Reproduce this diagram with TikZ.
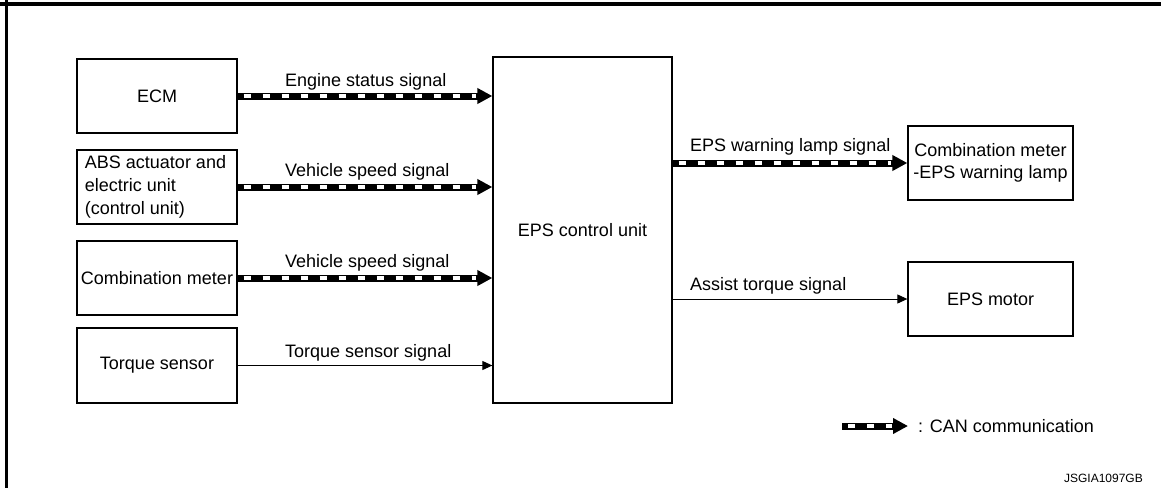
\documentclass[tikz,border=0pt]{standalone}
\usepackage{fontspec}
\setmainfont{Liberation Sans}
\usetikzlibrary{arrows.meta}
\begin{document}
\begin{tikzpicture}[x=1pt,y=-1pt,
  txt/.style={font=\fontsize{18}{23}\selectfont, inner sep=0pt},
  box/.style={draw=black, line width=1.3pt, minimum width=160pt, minimum height=74pt, txt},
  lbl/.style={txt, anchor=base west},
  can/.style={line width=7pt, -{Triangle[length=15pt,width=15pt]},
    postaction={draw=white, line width=3.2pt, dash pattern=on 7pt off 12pt, dash phase=13pt, shorten >=16pt, -}},
  thin/.style={line width=1pt, -{Triangle[length=10pt,width=9pt]}}]
\useasboundingbox (0,0) rectangle (1161,488);
% frame
\draw[line width=4pt] (0,3.5) -- (1161,3.5);
\draw[line width=3.5pt] (6.5,0) -- (6.5,488);
% nodes
\node[box] (ecm) at (157,96) {ECM};
\node[box, align=left] (abs) at (157,187) {\hspace*{-3pt}ABS actuator and\\\hspace*{-3pt}electric unit\\\hspace*{-3pt}(control unit)};
\node[box] (comb) at (157,278) {Combination meter};
\node[box, minimum height=75pt] (torque) at (157,365.5) {Torque sensor};
\node[box, minimum width=179pt, minimum height=346pt] (eps) at (582.5,230) {EPS control unit};
\node[box, minimum width=165pt, align=center, font=\fontsize{18}{22}\selectfont] (meter) at (990.5,163) {Combination meter\\-EPS warning lamp};
\node[box, minimum width=165pt] (motor) at (990.5,299) {EPS motor};
% connectors
\draw[can] (ecm.east) -- (eps.west |- ecm.east);
\draw[can] (abs.east) -- (eps.west |- abs.east);
\draw[can] (comb.east) -- (eps.west |- comb.east);
\draw[thin] (torque.east) -- (eps.west |- torque.east);
\draw[can] (eps.east |- meter.west) -- (meter.west);
\draw[thin] (eps.east |- motor.west) -- (motor.west);
% labels
\node[lbl] (l1) at (285,86) {Engine status signal};
\node[lbl] (l2) at (285,176) {Vehicle speed signal};
\node[lbl] (l3) at (285,267) {Vehicle speed signal};
\node[lbl] (l4) at (285,357) {Torque sensor signal};
\node[lbl] (l5) at (690,151) {EPS warning lamp signal};
\node[lbl] (l6) at (690,290) {Assist torque signal};
% legend
\coordinate (lga) at (842,426);
\coordinate (lgb) at (908,426);
\node[lbl] (lgt) at (918,432.5) {: CAN communication};
\draw[can] (lga) -- (lgb);
\node[txt, font=\fontsize{12}{14}\selectfont, anchor=base east] (id) at (1143,482) {JSGIA1097GB};
\end{tikzpicture}
\end{document}
